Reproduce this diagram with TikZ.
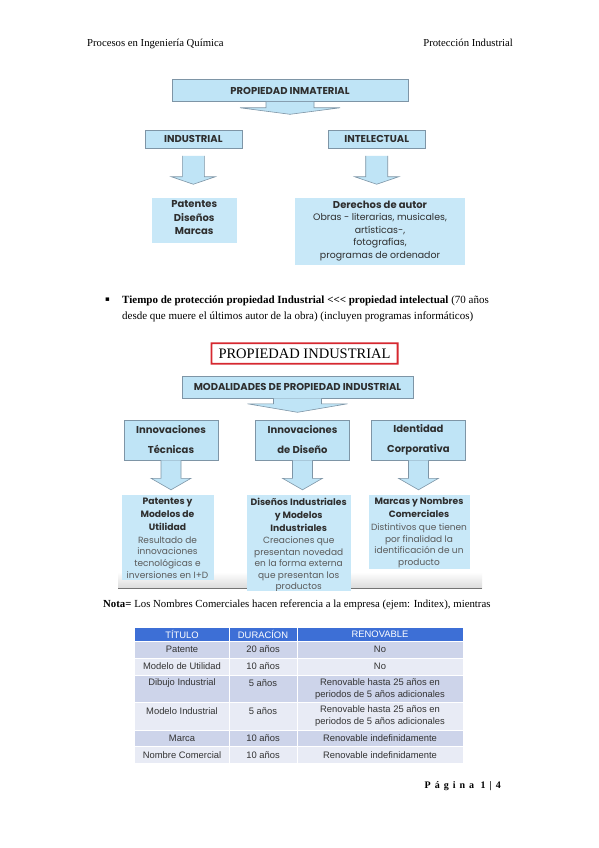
\documentclass[tikz,border=0pt]{standalone}
\usepackage{fontspec}
\setmainfont{Liberation Serif}
\newfontfamily\dg{Poppins}
\newfontfamily\tb{Liberation Sans}
\newfontfamily\symf{DejaVu Sans}
\usetikzlibrary{calc}
\definecolor{bfill}{HTML}{BFE4F6}
\definecolor{sfill}{HTML}{C8E8F8}
\definecolor{bline}{HTML}{7E95A6}
\definecolor{dtext}{HTML}{2E2E2E}
\definecolor{gtext}{HTML}{5A5A5A}
\definecolor{thead}{HTML}{3D6FD6}
\definecolor{rowA}{HTML}{CDD4EA}
\definecolor{rowB}{HTML}{E8EBF5}
\definecolor{redb}{RGB}{214,40,48}
\newcommand\blkarr[6]{% node, gap, shaft len, head len, shaft half, head half
  \coordinate (t) at ($(#1.south)+(0,#2)$);
  \fill[bfill] ($(t)+(-#5,0)$) -- ($(t)+(-#5,#3)$) -- ($(t)+(-#6,#3)$) -- ($(t)+(0,#3+#4)$) -- ($(t)+(#6,#3)$) -- ($(t)+(#5,#3)$) -- ($(t)+(#5,0)$) -- cycle;
  \draw[bline,line width=0.6pt,line join=miter] ($(t)+(-#5,0)$) -- ($(t)+(-#5,#3)$) -- ($(t)+(-#6,#3)$) -- ($(t)+(0,#3+#4)$) -- ($(t)+(#6,#3)$) -- ($(t)+(#5,#3)$) -- ($(t)+(#5,0)$);}
\tikzset{
  hbox/.style={draw=bline, fill=bfill, line width=0.6pt, inner sep=0pt, align=center, text=dtext, font=\dg\bfseries\fontsize{10}{12}\selectfont},
  sbox/.style={fill=sfill, inner sep=0pt},
  btext/.style={inner sep=0pt, align=center, text=dtext, font=\dg\bfseries\fontsize{9.2}{13}\selectfont},
  rtext/.style={inner sep=0pt, align=center, text=gtext, font=\dg\fontsize{9}{11.6}\selectfont},
  body/.style={inner sep=0pt, anchor=base west, font=\fontsize{11}{12}\selectfont},
  cell/.style={inner sep=0pt, align=center, font=\tb\fontsize{9.4}{12}\selectfont, text=black!80},
}
\begin{document}
\begin{tikzpicture}[x=1pt,y=-1pt]
\useasboundingbox (0,0) rectangle (599,848);
\fill[white] (0,0) rectangle (599,848);

% header
\node[body, font=\fontsize{10.7}{12}\selectfont] (h1) at (87,47) {Procesos en Ingeniería Química};
\node[body, anchor=base east, font=\fontsize{10.7}{12}\selectfont] (h2) at (513,47) {Protección Industrial};

% ---------- diagram 1
\node[hbox, minimum width=236, minimum height=22] (pim) at (290,90.5) {PROPIEDAD INMATERIAL};
\blkarr{pim}{0}{6}{6.5}{24}{50}
\node[hbox, minimum width=97, minimum height=18.5] (ind) at (193.3,139.2) {INDUSTRIAL};
\node[hbox, minimum width=97, minimum height=18.5] (int) at (376.7,139.2) {INTELECTUAL};
\blkarr{ind}{7}{21}{7.5}{11}{22}
\blkarr{int}{7}{21}{7.5}{11}{22}
\node[sbox, minimum width=85, minimum height=45] (pdm) at (194.2,220.8) {};
\node[btext, anchor=north, font=\dg\bfseries\fontsize{10}{13.3}\selectfont] (pdmt) at ($(pdm.north)+(0,2.5)$) {Patentes\\Diseños\\Marcas};
\node[sbox, minimum width=170, minimum height=67] (der) at (380,231.7) {};
\node[btext, anchor=north, font=\dg\bfseries\fontsize{10}{13}\selectfont] (dert) at ($(der.north)+(0,2.5)$) {Derechos de autor};
\node[rtext, anchor=north, text=dtext, font=\dg\fontsize{9.4}{12.8}\selectfont] (derr) at ($(der.north)+(0,15)$) {Obras - literarias, musicales,\\artísticas-,\\fotografías,\\programas de ordenador};

% bullet text
\node[inner sep=0pt, font=\symf\fontsize{7}{8}\selectfont] (bul) at (107.5,299.5) {▪};
\node[body] (l1) at (122,303) {\textbf{Tiempo de protección propiedad Industrial <\kern0pt<\kern0pt< propiedad intelectual} (70 años};
\node[body] (l2) at (122,319) {desde que muere el últimos autor de la obra) (incluyen programas informáticos)};

% red title
\fill[redb, even odd rule] (210.5,342.3) rectangle (398.5,364.7) (212.3,344.1) rectangle (396.7,362.9);
\node[inner sep=0pt, font=\fontsize{14.5}{16}\selectfont] (pind) at (304.5,353.5) {PROPIEDAD INDUSTRIAL};

% ---------- diagram 2
\shade[top color=white, bottom color=black!14] (118,572) rectangle (482,588);
\draw[black!55, line width=0.8pt] (118,588) -- (482,588);
\node[hbox, minimum width=231, minimum height=22] (mod) at (297.5,387) {MODALIDADES DE PROPIEDAD INDUSTRIAL};
\blkarr{mod}{0}{5.5}{8.5}{24}{50}
\tikzset{h2/.style={hbox, minimum width=94, minimum height=40, font=\dg\bfseries\fontsize{10}{20}\selectfont}}
\node[h2] (it) at (171,440) {Innovaciones\\Técnicas};
\node[h2] (id) at (302.5,440) {Innovaciones\\de Diseño};
\node[h2] (ic) at (418.5,440) {Identidad\\Corporativa};
\blkarr{it}{0}{18}{11.5}{10}{20}
\blkarr{id}{0}{18}{11.5}{10}{20}
\blkarr{ic}{0}{18}{11.5}{10}{20}

\node[sbox, minimum width=92, minimum height=85, anchor=north] (pm) at (167.5,495) {};
\node[btext, anchor=north] (pmt) at ($(pm.north)+(0,2.5)$) {Patentes y\\Modelos de\\Utilidad};
\node[rtext, anchor=north] (pmr) at ($(pm.north)+(0,41.5)$) {Resultado de\\innovaciones\\tecnológicas e\\inversiones en I+D};

\begin{scope}
\clip (240,490) rectangle (360,590);
\node[sbox, minimum width=104, minimum height=100, anchor=north] (dm) at (298.7,495) {};
\node[btext, anchor=north] (dmt) at ($(dm.north)+(0,2.5)$) {Diseños Industriales\\y Modelos\\Industriales};
\node[rtext, anchor=north] (dmr) at ($(dm.north)+(0,41.5)$) {Creaciones que\\presentan novedad\\en la forma externa\\que presentan los\\productos};
\end{scope}

\node[sbox, minimum width=101, minimum height=73.5, anchor=north] (mn) at (419,495) {};
\node[btext, anchor=north] (mnt) at ($(mn.north)+(0,2.5)$) {Marcas y Nombres\\Comerciales};
\node[rtext, anchor=north] (mnr) at ($(mn.north)+(0,28.5)$) {Distintivos que tienen\\por finalidad la\\identificación de un\\producto};

% nota
\node[body, font=\fontsize{10.8}{12}\selectfont] (nota) at (103,607) {\textbf{Nota=} Los Nombres Comerciales hacen referencia a la empresa (ejem: Inditex), mientras};

% ---------- table
\fill[thead] (135,628) rectangle (463,641);
\fill[rowA] (135,641) rectangle (463,658);
\fill[rowB] (135,658) rectangle (463,675);
\fill[rowA] (135,675) rectangle (463,702);
\fill[rowB] (135,702) rectangle (463,730);
\fill[rowA] (135,730) rectangle (463,746.5);
\fill[rowB] (135,746.5) rectangle (463,763);
\draw[white, line width=0.8pt] (229,628) -- (229,763) (297,628) -- (297,763)
  (135,641) -- (463,641) (135,658) -- (463,658) (135,675) -- (463,675) (135,702) -- (463,702) (135,730) -- (463,730) (135,746.5) -- (463,746.5);
\tikzset{th/.style={cell, text=white}}
\node[th] (c11) at (182,634.5) {TÍTULO};
\node[th] (c12) at (263,634.5) {DURACÍON};
\node[th] (c13) at (380,634.5) {RENOVABLE};
\node[cell] (c21) at (182,649.5) {Patente};
\node[cell] (c22) at (263,649.5) {20 años};
\node[cell] (c23) at (380,649.5) {No};
\node[cell] (c31) at (182,666.5) {Modelo de Utilidad};
\node[cell] (c32) at (263,666.5) {10 años};
\node[cell] (c33) at (380,666.5) {No};
\node[cell] (c41) at (182,683.5) {Dibujo Industrial};
\node[cell] (c42) at (263,683.5) {5 años};
\node[cell] (c43) at (380,689) {Renovable hasta 25 años en\\periodos de 5 años adicionales};
\node[cell] (c51) at (182,711) {Modelo Industrial};
\node[cell] (c52) at (263,711) {5 años};
\node[cell] (c53) at (380,716.5) {Renovable hasta 25 años en\\periodos de 5 años adicionales};
\node[cell] (c61) at (182,738.3) {Marca};
\node[cell] (c62) at (263,738.3) {10 años};
\node[cell] (c63) at (380,738.3) {Renovable indefinidamente};
\node[cell] (c71) at (182,755) {Nombre Comercial};
\node[cell] (c72) at (263,755) {10 años};
\node[cell] (c73) at (380,755) {Renovable indefinidamente};

% footer
\node[body, anchor=base east, font=\bfseries\fontsize{10}{11}\selectfont\addfontfeatures{LetterSpace=40}] (pg) at (501,788) {Página 1|4};
\end{tikzpicture}
\end{document}
